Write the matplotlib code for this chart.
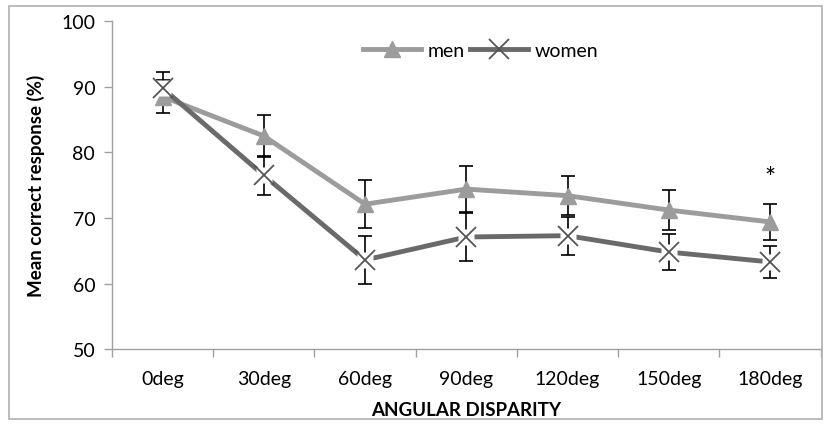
import matplotlib.pyplot as plt
from matplotlib.patches import Rectangle

categories = ["0deg", "30deg", "60deg", "90deg", "120deg", "150deg", "180deg"]
men = [88.5, 82.5, 72.1, 74.4, 73.4, 71.2, 69.4]
men_err = [2.5, 3.2, 3.7, 3.5, 3.0, 3.0, 2.7]
women = [89.8, 76.5, 63.6, 67.1, 67.3, 64.8, 63.3]
women_err = [2.5, 3.0, 3.7, 3.6, 2.9, 2.8, 2.4]
yticks = [50, 60, 70, 80, 90, 100]

plt.rcParams['font.family'] = ['Lato', 'DejaVu Sans']

fig = plt.figure(figsize=(8.29, 4.27), dpi=100)
ax = fig.add_axes([0.135, 0.18, 0.855, 0.768])
fig.patches.append(Rectangle((0.011, 0.017), 0.98, 0.966, transform=fig.transFigure,
                             fill=False, edgecolor='#b0b0b0', linewidth=1.2))

x = list(range(len(categories)))
ax.errorbar(x, men, yerr=men_err, fmt='none', ecolor='black', elinewidth=1.2,
            capsize=5, capthick=1.2, zorder=2)
ax.errorbar(x, women, yerr=women_err, fmt='none', ecolor='black', elinewidth=1.2,
            capsize=5, capthick=1.2, zorder=2)
ax.plot(x, men, color='#9c9c9c', linewidth=3.5, marker='^', markersize=12,
        markerfacecolor='#9c9c9c', markeredgecolor='#9c9c9c', label='men', zorder=3)
ax.plot(x, women, color='#6a6a6a', linewidth=3.5, zorder=3)
# white backing behind the X markers, as in the original
ax.plot(x, women, linestyle='none', marker='s', markersize=11,
        markerfacecolor='white', markeredgecolor='none', zorder=4)
ax.plot(x, women, linestyle='none', marker='x', markersize=14,
        markeredgewidth=1.3, markeredgecolor='#555555', zorder=5)
ax.plot([], [], color='#6a6a6a', linewidth=3.5, marker='x', markersize=14,
        markeredgewidth=1.3, markeredgecolor='#555555', label='women')
ax.text(6, 76.0, '*', ha='center', va='center', fontsize=19)

ax.set_xlim(-0.5, 6.5)
ax.set_ylim(50, 100)
ax.set_yticks(yticks)
ax.set_xticks(x)
ax.set_xticklabels(categories, fontsize=14)
ax.set_xticks([i - 0.5 for i in range(len(categories) + 1)], minor=True)
ax.tick_params(axis='x', which='major', length=0, pad=15)
ax.tick_params(axis='x', which='minor', length=6, color='#a0a0a0', width=1)
ax.tick_params(axis='y', length=6, color='#a0a0a0', width=1, labelsize=14, pad=6)
for s in ['top', 'right']:
    ax.spines[s].set_visible(False)
for s in ['left', 'bottom']:
    ax.spines[s].set_color('#a0a0a0')
    ax.spines[s].set_linewidth(1)

ax.set_xlabel('ANGULAR DISPARITY', fontsize=13.5, fontweight='bold', labelpad=10)
ax.set_ylabel('Mean correct response (%)', fontsize=13.5, fontweight='bold', labelpad=12)

ax.legend(loc='upper center', bbox_to_anchor=(0.52, 0.99), ncol=2, frameon=False,
          fontsize=14, handlelength=3.0, columnspacing=0.3, handletextpad=0.3)

fig.savefig('out.png', dpi=100)
